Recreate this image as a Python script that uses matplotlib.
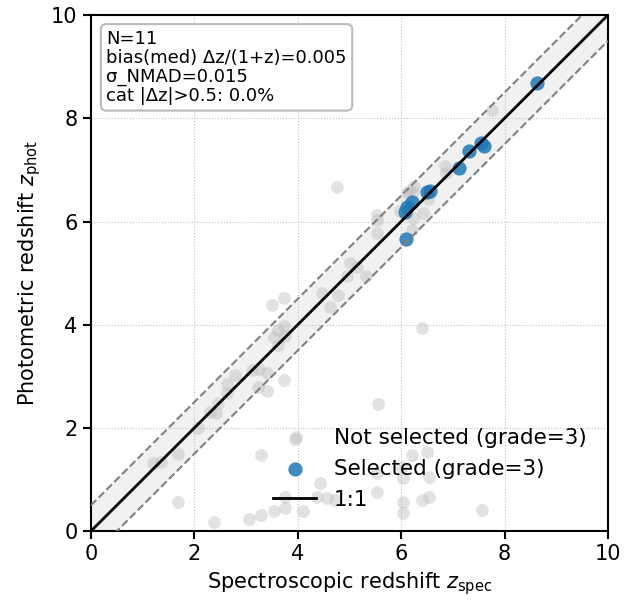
import numpy as np
import matplotlib
matplotlib.use("Agg")
import matplotlib.pyplot as plt

# gray: all grade=3 objects not selected
zspec_all = [1.20, 1.35, 1.68, 2.07, 2.30, 2.42, 2.46, 2.63, 2.63, 3.23, 3.40, 3.73,
             2.79, 3.11, 3.25, 3.40, 3.50, 3.73, 3.54, 3.62, 3.73, 3.75, 3.62,
             4.47, 4.62, 4.78, 4.76, 5.53, 5.53, 5.53, 5.01, 5.15, 4.95, 5.32,
             6.85, 6.87, 6.11, 6.23, 6.52, 5.98, 6.42, 6.21, 6.23, 6.25, 6.15, 7.76,
             1.68, 2.38, 3.06, 3.29, 3.54, 3.75, 3.75, 4.10, 3.97, 3.29, 4.37, 4.43,
             4.56, 4.72, 5.53, 5.53, 5.55, 6.03, 6.02, 6.03, 6.03, 6.21, 6.50, 6.54,
             6.40, 6.54, 7.56, 6.40]
zphot_all = [1.32, 1.34, 1.49, 2.00, 2.31, 2.29, 2.48, 2.67, 2.85, 2.79, 2.71, 2.93,
             3.02, 3.12, 3.14, 3.06, 4.38, 4.52, 3.76, 3.60, 3.97, 3.78, 3.90,
             4.61, 4.34, 4.57, 6.67, 6.12, 6.03, 5.78, 5.19, 5.12, 4.94, 4.94,
             7.07, 6.94, 6.55, 6.57, 6.43, 6.20, 6.16, 5.83, 6.07, 6.68, 6.60, 8.16,
             0.56, 0.17, 0.23, 0.31, 0.39, 0.45, 0.66, 0.39, 1.82, 1.47, 0.66, 0.93,
             0.64, 0.60, 0.76, 1.12, 2.46, 1.03, 1.24, 0.56, 0.35, 1.47, 1.53, 1.05,
             0.60, 0.66, 0.41, 3.93]

# blue: selected objects
zspec_sel = [8.63, 7.12, 7.32, 7.55, 7.60, 6.50, 6.56, 6.21, 6.11, 6.07, 6.09]
zphot_sel = [8.68, 7.03, 7.37, 7.53, 7.47, 6.57, 6.60, 6.38, 6.28, 6.18, 5.66]

stats_text = "N=11\nbias(med) \u0394z/(1+z)=0.005\n\u03c3_NMAD=0.015\ncat |\u0394z|>0.5: 0.0%"

fig = plt.figure(figsize=(6.44, 6.03), dpi=100)
ax = fig.add_axes([0.141, 0.119, 0.803, 0.856])

zz = np.array([0, 10])
ax.fill_between(zz, zz - 0.5, zz + 0.5, color="0.85", alpha=0.35, lw=0, zorder=0)
ax.scatter(zspec_all, zphot_all, s=85, color="0.75", alpha=0.45, lw=0,
           label="Not selected (grade=3)", zorder=2)
ax.scatter(zspec_sel, zphot_sel, s=105, color="#1f77b4", alpha=0.85, lw=0,
           label="Selected (grade=3)", zorder=3)
ax.plot(zz, zz, color="black", lw=2, label="1:1", zorder=4)
ax.plot(zz, zz + 0.5, color="gray", ls="--", lw=1.5, zorder=4)
ax.plot(zz, zz - 0.5, color="gray", ls="--", lw=1.5, zorder=4)

ax.set_xlim(0, 10)
ax.set_ylim(0, 10)
ax.set_xticks([0, 2, 4, 6, 8, 10])
ax.set_yticks([0, 2, 4, 6, 8, 10])
ax.tick_params(labelsize=15, length=6, width=1.5)
for sp in ax.spines.values():
    sp.set_linewidth(1.5)
ax.grid(True, ls=":", color="0.75", lw=0.8)
ax.set_axisbelow(True)
ax.set_xlabel(r"Spectroscopic redshift $z_{\rm spec}$", fontsize=15)
ax.set_ylabel(r"Photometric redshift $z_{\rm phot}$", fontsize=15, labelpad=6)

ax.text(0.03, 0.972, stats_text, transform=ax.transAxes, va="top", ha="left",
        fontsize=13, linespacing=1.08,
        bbox=dict(boxstyle="round,pad=0.3", fc="white", ec="0.7", alpha=0.9, lw=1.5))

ax.legend(loc="lower right", frameon=False, fontsize=15.5, handlelength=2.0,
          borderaxespad=0.6)

fig.savefig("out.png", dpi=100)
